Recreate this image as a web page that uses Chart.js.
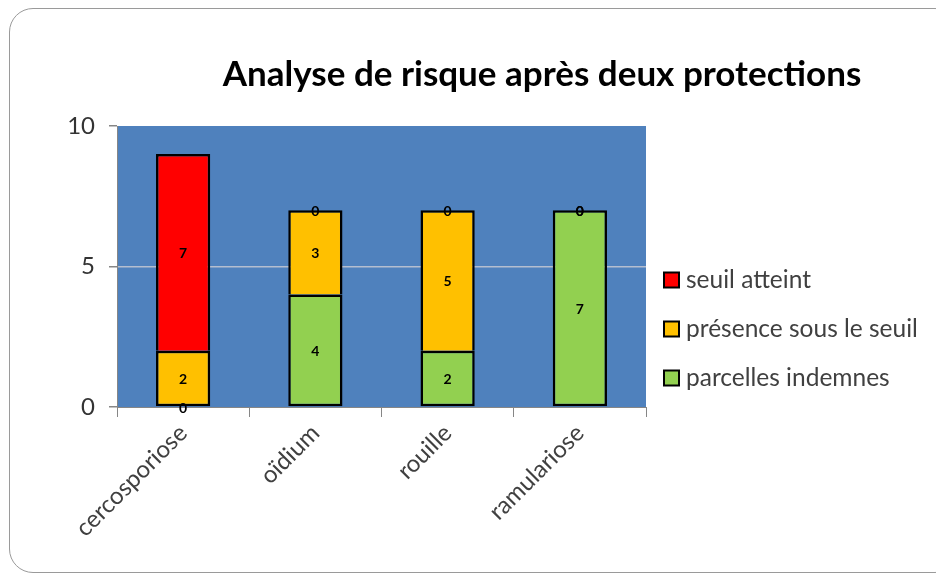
<!DOCTYPE html>
<html>
<head>
<meta charset="utf-8">
<script src="https://cdn.jsdelivr.net/npm/chart.js@4.4.1/dist/chart.umd.min.js"></script>
<style>
  html, body { margin: 0; padding: 0; background: #ffffff; }
  #wrap { position: relative; width: 936px; height: 574px; overflow: hidden; }
  #frame { position: absolute; left: 9px; top: 8px; width: 950px; height: 565px;
           border: 1.5px solid #9a9a9a; border-radius: 24px; box-sizing: border-box; }
  canvas { position: absolute; left: 0; top: 0; }
</style>
</head>
<body>
<div id="wrap">
  <div id="frame"></div>
  <canvas id="c" width="936" height="574"></canvas>
</div>
<script>
const chartTitle = "Analyse de risque après deux protections";
const categories = ["cercosporiose", "oïdium", "rouille", "ramulariose"];
const seriesNames = ["parcelles indemnes", "présence sous le seuil", "seuil atteint"];
const parcellesIndemnes = [0, 4, 2, 7];
const presenceSousSeuil = [2, 3, 5, 0];
const seuilAtteint = [7, 0, 0, 0];
const seriesColors = ["#92D050", "#FFC000", "#FF0000"];
const yTicks = [0, 5, 10];

const seriesValues = [parcellesIndemnes, presenceSousSeuil, seuilAtteint];
const FONT = "Lato, 'Open Sans', sans-serif";

function hasBelow(ds, idx) {
  for (let d = 0; d < ds; d++) if (seriesValues[d][idx] > 0) return true;
  return false;
}

const datasets = seriesNames.map((name, i) => ({
  label: name,
  data: seriesValues[i],
  backgroundColor: seriesColors[i],
  borderColor: "#000000",
  borderWidth: 2.5,
  borderSkipped: (ctx) => hasBelow(ctx.datasetIndex, ctx.dataIndex) ? "start" : false,
  categoryPercentage: 1.0,
  barPercentage: 0.41
}));

const bgPlugin = {
  id: "plotBg",
  beforeDraw(chart) {
    const a = chart.chartArea, ctx = chart.ctx;
    ctx.save();
    ctx.fillStyle = "#4F81BD";
    ctx.fillRect(a.left, a.top, a.right - a.left, a.bottom - a.top);
    ctx.restore();
  }
};

const labelPlugin = {
  id: "valueLabels",
  afterDatasetsDraw(chart) {
    const ctx = chart.ctx;
    ctx.save();
    ctx.font = "bold 14px " + FONT;
    ctx.fillStyle = "#000000";
    ctx.textAlign = "center";
    ctx.textBaseline = "middle";
    chart.data.datasets.forEach((ds, di) => {
      const meta = chart.getDatasetMeta(di);
      meta.data.forEach((bar, j) => {
        const y = (bar.y + bar.base) / 2;
        ctx.fillText(String(ds.data[j]), bar.x, y + 1);
      });
    });
    ctx.restore();
  }
};

const titleLegendPlugin = {
  id: "titleLegend",
  afterDraw(chart) {
    const ctx = chart.ctx;
    ctx.save();
    ctx.font = "bold 35px " + FONT;
    ctx.fillStyle = "#000000";
    ctx.textAlign = "center";
    ctx.textBaseline = "middle";
    ctx.fillText(chartTitle, 542, 75);
    // legend (reverse order: top series first)
    ctx.font = "24.5px " + FONT;
    ctx.textAlign = "left";
    const items = chart.data.datasets.map((d, i) => ({label: d.label, color: d.backgroundColor})).reverse();
    items.forEach((it, k) => {
      const cy = 280 + k * 49;
      ctx.fillStyle = it.color;
      ctx.fillRect(664, cy - 7.5, 15, 15);
      ctx.lineWidth = 2;
      ctx.strokeStyle = "#000000";
      ctx.strokeRect(664, cy - 7.5, 15, 15);
      ctx.fillStyle = "#404040";
      ctx.fillText(it.label, 686, cy);
    });
    ctx.restore();
  }
};

new Chart(document.getElementById("c"), {
  type: "bar",
  data: { labels: categories, datasets },
  plugins: [bgPlugin, labelPlugin, titleLegendPlugin],
  options: {
    responsive: false,
    animation: false,
    layout: { padding: { top: 126, right: 290, bottom: 0, left: 0 } },
    plugins: { legend: { display: false }, title: { display: false }, tooltip: { enabled: false } },
    scales: {
      x: {
        stacked: true,
        offset: true,
        grid: { offset: true, drawOnChartArea: false, tickLength: 10, color: "#868686", tickColor: "#868686" },
        border: { display: true, color: "#868686", width: 1 },
        ticks: { font: { family: FONT, size: 24 }, color: "#404040", minRotation: 45, maxRotation: 45, padding: 2 },
        afterFit(s) { s.height = 167; }
      },
      y: {
        stacked: true,
        min: 0, max: 10,
        afterBuildTicks(s) { s.ticks = yTicks.map(v => ({ value: v })); },
        grid: {
          color: (c) => (c.tick && c.tick.value === 5) ? "#B4BED0" : "rgba(0,0,0,0)",
          tickColor: "#868686", tickLength: 8, lineWidth: 1.5
        },
        border: { display: true, color: "#868686", width: 1 },
        ticks: { font: { family: FONT, size: 24 }, color: "#333333", padding: 14 },
        afterFit(s) { s.width = 117; }
      }
    }
  }
});
</script>
</body>
</html>
